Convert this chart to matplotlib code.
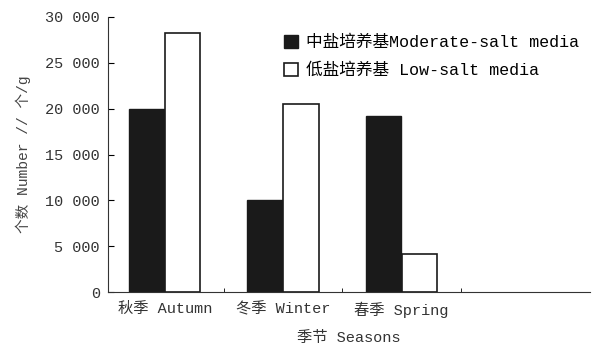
import matplotlib
matplotlib.use("Agg")
import matplotlib.pyplot as plt
from matplotlib.ticker import FuncFormatter
import numpy as np

plt.rcParams['font.family'] = ['Liberation Mono', 'Noto Sans CJK SC']

seasons = ["秋季 Autumn", "冬季 Winter", "春季 Spring"]
moderate = [20000, 10000, 19200]
low = [28200, 20500, 4200]
yticks = [0, 5000, 10000, 15000, 20000, 25000, 30000]

fig = plt.figure(figsize=(5.94, 3.54), dpi=100)
ax = fig.add_axes([0.182, 0.175, 0.811, 0.777])

x = np.arange(len(seasons))
w = 0.3
ax.bar(x - w / 2 - 0.005, moderate, w, color="#1a1a1a", edgecolor="#1a1a1a",
       label="中盐培养基Moderate-salt media")
ax.bar(x + w / 2, low, w, color="white", edgecolor="#1a1a1a", linewidth=1.2,
       label="低盐培养基 Low-salt media")

ax.set_xlim(-0.48, 3.59)
ax.set_ylim(0, 30000)
ax.set_yticks(yticks)
ax.yaxis.set_major_formatter(FuncFormatter(
    lambda v, p: "0" if v == 0 else f"{int(v) // 1000} 000"))
ax.set_xticks(x)
ax.set_xticklabels(seasons, fontsize=11, color="#333333")
ax.set_xticks([0.5, 1.5, 2.5], minor=True)
ax.tick_params(axis="x", which="major", length=0, pad=7)
ax.tick_params(axis="x", which="minor", length=3, direction="in")
ax.tick_params(axis="y", labelsize=11, labelcolor="#333333", length=4,
               direction="in", pad=6)

for s in ["top", "right"]:
    ax.spines[s].set_visible(False)
ax.spines["left"].set_color("#333333")
ax.spines["bottom"].set_color("#333333")

ax.set_xlabel("季节 Seasons", fontsize=11, color="#333333", labelpad=9)
ax.set_ylabel("个数 Number // 个/g", fontsize=10.5, color="#444444", labelpad=10)

ax.legend(loc="upper left", bbox_to_anchor=(0.335, 0.99), frameon=False,
          fontsize=12, handlelength=0.8, handleheight=0.8, handletextpad=0.5,
          labelspacing=0.75)

fig.savefig("out.png", dpi=100)
